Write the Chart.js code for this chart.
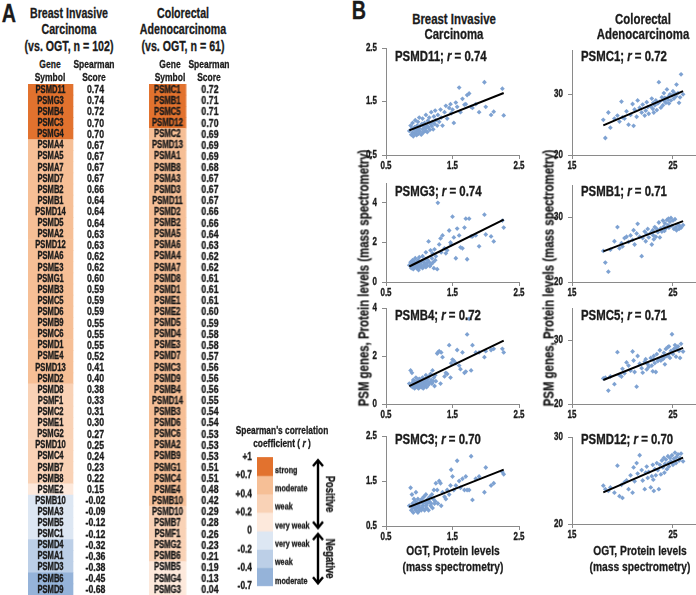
<!DOCTYPE html>
<html>
<head>
<meta charset="utf-8">
<script src="https://cdn.jsdelivr.net/npm/chart.js@4.4.0/dist/chart.umd.min.js"></script>
<style>
  body { margin: 0; background: #fff; }
  #page { position: relative; width: 696px; height: 595px; overflow: hidden; background: #fff;
    font-family: "Liberation Sans", Arial, sans-serif; font-weight: bold; color: #1b1b1b; }
  .t { position: absolute; white-space: nowrap; line-height: 1; -webkit-text-stroke: 0.3px #1b1b1b;
    transform: translate(-50%, -50%) scaleX(0.76); }
  .box { position: absolute; }
</style>
</head>
<body>
<div id="page"></div>
<script>
// ---- panel A: spearman scores ----
const breastGenes = ['PSMD11','PSMG3','PSMB4','PSMC3','PSMG4','PSMA4','PSMA5','PSMA7','PSMD7','PSMB2',
  'PSMB1','PSMD14','PSMD5','PSMA2','PSMD12','PSMA6','PSME3','PSMG1','PSMB3','PSMC5',
  'PSMD6','PSMB9','PSMC6','PSMD1','PSME4','PSMD13','PSMD2','PSMD8','PSMF1','PSMC2',
  'PSME1','PSMG2','PSMD10','PSMC4','PSMB7','PSMB8','PSME2','PSMB10','PSMA3','PSMB5',
  'PSMC1','PSMD4','PSMA1','PSMD3','PSMB6','PSMD9'];
const breastScores = [0.74,0.74,0.72,0.70,0.70,0.67,0.67,0.67,0.67,0.66,
  0.64,0.64,0.64,0.63,0.63,0.62,0.62,0.60,0.59,0.59,
  0.59,0.55,0.55,0.55,0.52,0.41,0.40,0.38,0.33,0.31,
  0.30,0.27,0.25,0.24,0.23,0.22,0.15,-0.02,-0.09,-0.12,
  -0.12,-0.32,-0.36,-0.38,-0.45,-0.68];

const colonGenes = ['PSMC1','PSMB1','PSMC5','PSMD12','PSMC2','PSMD13','PSMA1','PSMB8','PSMA3','PSMD3',
  'PSMD11','PSMD2','PSMB2','PSMA5','PSMA6','PSMA4','PSMA7','PSMD8','PSMD1','PSME1',
  'PSME2','PSMD5','PSMD4','PSME3','PSMD7','PSMC3','PSMD9','PSMB4','PSMD14','PSMB3',
  'PSMD6','PSMC6','PSMA2','PSMB9','PSMG1','PSMC4','PSME4','PSMB10','PSMD10','PSMB7',
  'PSMF1','PSMG2','PSMB6','PSMB5','PSMG4','PSMG3'];
const colonScores = [0.72,0.71,0.71,0.70,0.69,0.69,0.69,0.68,0.67,0.67,
  0.67,0.66,0.66,0.64,0.63,0.62,0.62,0.61,0.61,0.61,
  0.60,0.59,0.58,0.58,0.57,0.56,0.56,0.56,0.55,0.54,
  0.54,0.53,0.53,0.53,0.51,0.51,0.48,0.42,0.29,0.28,
  0.26,0.23,0.21,0.19,0.13,0.04];

const legendTicks = ['+1','+0.7','+0.4','+0.2','0','-0.2','-0.4','-0.7'];
const legendBands = ['strong','moderate','weak','very weak','very weak','weak','moderate'];
const bandColors = ['#e2722e','#f6bf96','#f9d2b6','#fde9dc','#dde7f3','#bccfe7','#95b3d9'];

// ---- panel B: protein levels (OGT on x) ----
const breastOgt = [0.85,0.87,0.88,0.89,0.90,0.90,0.91,0.92,0.93,0.93,
  0.94,0.95,0.95,0.96,0.97,0.98,0.98,0.99,1.00,1.00,
  1.01,1.02,1.03,1.04,1.05,1.05,1.06,1.07,1.08,1.09,
  1.10,1.10,1.11,1.12,1.13,1.14,1.15,1.16,1.17,1.18,
  1.19,1.20,1.21,1.22,1.23,1.24,1.25,1.27,1.28,1.30,
  1.32,1.33,1.35,1.38,1.40,1.42,1.45,1.47,1.48,1.50,
  1.52,1.55,1.57,1.60,1.62,1.65,1.68,1.70,1.72,1.75,
  1.78,1.80,1.85,1.90,1.98,2.00,2.08,2.12,2.25,2.27];
const breastPsmd11 = [0.95,1.05,0.88,1.00,0.92,1.10,0.85,0.98,1.02,0.90,
  1.15,0.93,1.00,0.87,1.05,0.96,1.12,0.90,1.00,1.20,
  0.94,1.05,0.88,1.08,0.98,1.18,0.92,1.03,1.10,0.95,
  1.25,1.00,1.06,0.93,1.14,1.02,1.20,0.97,1.08,1.30,
  1.04,1.12,0.98,1.22,1.08,1.33,1.15,1.05,1.25,1.12,
  1.35,1.20,1.05,1.30,1.42,1.18,1.38,1.45,1.28,1.35,
  1.10,1.48,1.40,1.76,1.30,1.55,1.44,1.45,1.62,1.65,
  1.40,1.38,1.45,1.30,1.86,1.40,1.25,1.31,1.74,1.24];
const breastPsmg3 = [0.85,1.00,0.70,0.95,1.10,0.80,0.65,1.05,0.90,0.75,
  1.20,0.85,0.95,0.70,1.00,0.80,1.10,0.60,0.90,1.25,
  0.75,0.95,0.85,1.05,0.70,1.30,0.80,1.00,0.90,1.15,
  0.75,1.50,0.95,0.85,1.10,2.05,1.00,0.80,1.60,0.90,
  1.20,1.45,1.00,0.70,1.65,1.10,1.30,0.65,4.00,1.90,
  2.20,1.50,2.35,1.70,1.45,1.60,2.60,2.00,1.90,3.30,
  2.25,1.20,2.70,2.35,1.75,1.70,2.75,3.20,1.15,3.20,
  2.30,2.30,2.35,1.80,3.40,2.40,2.30,2.05,3.10,2.75];
const breastPsmb4 = [0.85,1.40,0.75,1.30,0.90,0.70,1.00,0.80,0.95,0.65,
  0.85,1.10,0.75,0.90,0.70,1.00,0.80,0.65,0.90,1.05,
  0.75,0.85,0.70,0.95,0.80,1.10,0.65,0.90,0.75,1.00,
  0.85,1.20,0.70,0.95,1.05,0.80,1.15,0.90,1.25,1.00,
  0.85,1.40,0.95,1.10,0.75,1.20,0.95,2.10,2.15,2.20,
  0.85,2.15,1.95,1.15,1.30,1.25,2.45,1.10,1.70,1.85,
  1.80,1.70,2.25,1.60,1.45,2.15,1.30,1.35,2.90,3.55,
  1.40,2.45,2.15,2.15,1.95,2.20,2.25,2.30,2.30,2.15];
const breastPsmc3 = [0.95,1.35,0.85,1.20,0.90,1.00,0.80,1.10,0.90,0.95,
  1.05,0.85,1.25,0.90,1.00,0.80,1.10,0.95,0.85,1.00,
  0.90,1.05,0.85,1.10,0.95,0.90,1.00,1.15,0.85,1.05,
  0.95,1.20,0.90,1.00,1.10,0.85,1.05,1.15,0.95,1.00,
  1.20,0.90,1.10,1.30,1.00,1.05,1.45,1.30,1.00,1.50,
  1.45,0.95,1.25,1.15,1.10,1.30,1.20,1.40,1.75,1.60,
  1.30,1.40,1.95,1.50,1.35,1.55,1.30,1.60,1.30,1.30,
  2.05,1.08,1.55,1.60,1.25,1.80,1.40,1.45,1.70,1.65];

const colonOgt = [18.1,18.3,18.6,18.8,19.2,19.5,19.7,19.9,20.0,20.2,
  20.4,20.6,20.8,21.0,21.1,21.2,21.4,21.5,21.7,21.9,
  22.0,22.2,22.3,22.4,22.5,22.6,22.8,22.9,23.0,23.05,
  23.1,23.2,23.3,23.4,23.5,23.6,23.7,23.8,23.9,24.0,
  24.1,24.15,24.2,24.3,24.4,24.5,24.55,24.6,24.7,24.8,
  24.9,25.0,25.1,25.2,25.3,25.35,25.5,25.6,25.7,25.8,
  26.0];
const colonPsmc1 = [25.8,22.8,27.0,24.5,26.0,26.5,25.5,28.8,26.2,26.0,
  27.2,25.0,26.6,28.4,24.8,27.5,26.3,29.0,27.8,27.0,
  28.3,26.5,27.3,28.7,27.9,26.8,28.0,29.3,27.6,28.6,
  27.0,28.2,29.0,27.4,28.5,32.0,28.8,27.8,29.5,28.2,
  30.2,28.9,29.4,28.6,30.8,29.1,29.6,28.5,30.0,29.0,
  29.8,30.5,29.3,30.1,29.7,31.6,30.2,28.6,29.5,33.3,
  30.0];
const colonPsmb1 = [24.8,23.0,21.6,25.0,26.3,28.5,25.2,26.0,25.5,26.8,
  27.0,26.2,27.2,26.5,28.0,25.8,27.5,29.0,27.0,24.0,
  26.8,27.8,26.3,27.4,28.2,26.9,27.6,25.8,28.0,27.2,
  26.6,28.5,27.0,28.2,27.7,29.2,26.9,28.3,27.8,29.5,
  28.6,27.9,29.1,28.3,29.6,28.8,29.8,28.4,29.3,29.9,
  28.7,29.5,28.2,29.7,28.5,28.0,28.9,28.2,28.6,28.4,
  28.8];
const colonPsmc5 = [24.0,24.1,22.1,24.3,23.1,28.1,24.5,24.3,25.5,24.8,
  26.5,26.0,25.2,28.2,26.8,25.0,22.7,27.5,26.3,25.6,
  24.9,26.6,27.0,25.4,26.2,25.8,27.2,26.0,25.1,26.9,
  27.5,26.4,25.0,27.8,26.7,27.0,28.4,26.8,27.4,27.0,
  28.0,27.3,26.2,28.6,27.5,28.9,27.7,29.0,27.2,28.3,
  30.9,27.8,28.6,29.2,27.4,28.8,29.0,28.3,27.2,29.4,
  28.2];
const colonPsmd12 = [24.4,24.0,23.8,24.2,23.6,26.7,23.2,24.5,23.0,24.8,
  25.0,24.0,25.6,23.6,26.5,24.9,27.0,25.8,27.9,26.2,
  25.0,24.0,25.9,26.6,25.3,26.0,24.2,25.5,26.8,25.1,
  23.8,26.3,25.6,27.0,26.2,24.0,26.8,25.7,27.3,26.5,
  27.6,25.9,26.9,27.4,26.3,27.8,27.0,26.6,27.6,27.2,
  27.9,26.8,27.5,28.2,27.0,27.7,28.0,27.3,27.6,28.1,
  27.2];

const breastPlotGenes = ['PSMD11','PSMG3','PSMB4','PSMC3'];
const breastPlotR = [0.74, 0.74, 0.72, 0.70];
const colonPlotGenes = ['PSMC1','PSMB1','PSMC5','PSMD12'];
const colonPlotR = [0.72, 0.71, 0.71, 0.70];

const breastYTicks = [[0.5,1.5,2.5],[0,2,4],[0,2,4],[0.5,1.5,2.5]];
const breastYRange = [[0.5,2.5],[0,5],[0,4],[0.5,2.5]];
const colonYTicks = [[20,30],[20,30],[20,30],[20,30]];
const colonYRange = [[20,37.3],[20,35],[20,35],[20,30]];
const breastXTicks = [0.5,1.5,2.5];
const colonXTicks = [15,25];

// ---------------------------------------------------------------
// no condensed face installed: draw Liberation Sans squeezed horizontally
const FAM = '"Liberation Sans", Arial, sans-serif';
const SX = 0.76;
const INK = '#1b1b1b';
Chart.defaults.font.family = FAM;
Chart.defaults.font.weight = 'bold';
Chart.defaults.color = INK;

const page = document.getElementById('page');

function addText(x, y, html, size, rot) {
  const d = document.createElement('div');
  d.className = 't';
  d.style.left = x + 'px';
  d.style.top = y + 'px';
  d.style.fontSize = size + 'px';
  if (rot) d.style.transform = 'translate(-50%,-50%) rotate(' + rot + 'deg) scaleX(' + SX + ')';
  d.innerHTML = html;
  page.appendChild(d);
}

function addCanvas(left, top, w, h) {
  const d = document.createElement('div');
  d.className = 'box';
  d.style.left = left + 'px';
  d.style.top = top + 'px';
  d.style.width = w + 'px';
  d.style.height = h + 'px';
  const c = document.createElement('canvas');
  d.appendChild(c);
  page.appendChild(d);
  return c;
}

// narrow, slightly heavier text on a canvas; returns drawn width
function narrow(ctx, text, x, y, font, align) {
  ctx.save();
  ctx.font = font;
  ctx.textAlign = align || 'center';
  ctx.textBaseline = 'middle';
  ctx.fillStyle = INK;
  ctx.strokeStyle = INK;
  ctx.lineWidth = 0.35;
  ctx.translate(x, y);
  ctx.scale(SX, 1);
  ctx.fillText(text, 0, 0);
  ctx.strokeText(text, 0, 0);
  const w = ctx.measureText(text).width * SX;
  ctx.restore();
  return w;
}

function bandOf(s) {
  if (s >= 0.7) return 0;
  if (s >= 0.4) return 1;
  if (s >= 0.2) return 2;
  if (s >= 0) return 3;
  if (s > -0.2) return 4;
  if (s > -0.4) return 5;
  return 6;
}

const base = {
  responsive: true,
  maintainAspectRatio: false,
  animation: false,
  devicePixelRatio: 1,
  events: []
};

// ---- tables ----
const cellText = {
  id: 'cellText',
  afterDatasetsDraw(chart, args, o) {
    const ctx = chart.ctx, xs = chart.scales.x, ys = chart.scales.y;
    o.genes.forEach((g, i) => {
      const y = ys.getPixelForValue(i) + 0.5;
      narrow(ctx, g, xs.getPixelForValue(0.5), y, 'bold 10px ' + FAM);
      narrow(ctx, o.scores[i].toFixed(2), xs.getPixelForValue(o.scoreAt), y, 'bold 11.5px ' + FAM);
    });
  }
};

const TABLE_TOP = 83.75, ROW_H = 11.11;

function geneTable(left, cellW, genes, scores, scoreAt) {
  const c = addCanvas(left, TABLE_TOP, cellW * 2, genes.length * ROW_H);
  new Chart(c, {
    type: 'bar',
    data: {
      labels: genes,
      datasets: [{
        data: genes.map(() => [0, 1]),
        backgroundColor: scores.map(s => bandColors[bandOf(s)]),
        borderWidth: 0,
        barPercentage: 1,
        categoryPercentage: 1
      }]
    },
    options: Object.assign({}, base, {
      indexAxis: 'y',
      layout: { padding: 0 },
      scales: {
        x: { display: false, min: 0, max: 2 },
        y: { display: false }
      },
      plugins: {
        legend: { display: false },
        tooltip: { enabled: false },
        cellText: { genes: genes, scores: scores, scoreAt: scoreAt }
      }
    }),
    plugins: [cellText]
  });
}

geneTable(28, 45, breastGenes, breastScores, 1.5);
geneTable(149.3, 36.4, colonGenes, colonScores, 1.65);

// ---- legend bar ----
const legendDeco = {
  id: 'legendDeco',
  afterDraw(chart) {
    const ctx = chart.ctx, a = chart.chartArea, ys = chart.scales.y;
    legendTicks.forEach((t, i) => {
      narrow(ctx, t, a.left - 5, ys.getPixelForValue(i), 'bold 11px ' + FAM, 'right');
    });
    legendBands.forEach((b, i) => {
      const y = (ys.getPixelForValue(i) + ys.getPixelForValue(i + 1)) / 2 + 4;
      narrow(ctx, b, a.right + 2, y, 'bold 9.5px ' + FAM, 'left');
    });
    const ax = a.right + 45;
    const y0 = ys.getPixelForValue(0), y4 = ys.getPixelForValue(4), y7 = ys.getPixelForValue(7);
    ctx.save();
    ctx.strokeStyle = '#000';
    ctx.lineWidth = 2.4;
    const arrow = (t, b) => {
      ctx.beginPath();
      ctx.moveTo(ax, t); ctx.lineTo(ax, b);
      ctx.moveTo(ax - 5, t + 6); ctx.lineTo(ax, t); ctx.lineTo(ax + 5, t + 6);
      ctx.moveTo(ax - 5, b - 6); ctx.lineTo(ax, b); ctx.lineTo(ax + 5, b - 6);
      ctx.stroke();
    };
    arrow(y0 + 3, y4 - 3);
    arrow(y4 + 3, y7 - 3);
    [['Positive', (y0 + y4) / 2], ['Negative', (y4 + y7) / 2]].forEach(([t, y]) => {
      ctx.save();
      ctx.translate(a.right + 56, y);
      ctx.rotate(Math.PI / 2);
      narrow(ctx, t, 0, 0, 'bold 12.5px ' + FAM);
      ctx.restore();
    });
    ctx.restore();
  }
};

(function () {
  const c = addCanvas(217, 447.3, 166, 148.3);
  new Chart(c, {
    type: 'bar',
    data: {
      labels: [''],
      datasets: legendBands.map((b, i) => ({
        label: b,
        data: [1],
        backgroundColor: bandColors[i],
        borderWidth: 0,
        barPercentage: 1,
        categoryPercentage: 1
      }))
    },
    options: Object.assign({}, base, {
      layout: { padding: { top: 10, right: 110, bottom: 10, left: 0 } },
      scales: {
        x: { stacked: true, display: false },
        y: {
          stacked: true, min: 0, max: 7, reverse: true,
          afterBuildTicks: s => { s.ticks = legendTicks.map((_, i) => ({ value: i })); },
          afterFit: s => { s.width = 40; },
          grid: { display: false, drawTicks: false },
          border: { display: false },
          ticks: { display: false }
        }
      },
      plugins: { legend: { display: false }, tooltip: { enabled: false } }
    }),
    plugins: [legendDeco]
  });
})();

// ---- scatter plots ----
const plotDeco = {
  id: 'plotDeco',
  afterDraw(chart, args, o) {
    const ctx = chart.ctx, a = chart.chartArea, xs = chart.scales.x, ys = chart.scales.y;
    xs.ticks.forEach(t => narrow(ctx, String(t.value), xs.getPixelForValue(t.value), a.bottom + 11, 'bold 10.5px ' + FAM));
    ys.ticks.forEach(t => narrow(ctx, String(t.value), a.left - 9, ys.getPixelForValue(t.value), 'bold 10.5px ' + FAM, 'right'));
    // title with italic r
    let x = a.left + 9;
    const y = a.top + o.dy;
    [[o.gene + '; ', 'bold'], ['r', 'italic bold'], [' = ' + o.r.toFixed(2), 'bold']].forEach(([t, st]) => {
      x += narrow(ctx, t, x, y, st + ' 15px ' + FAM, 'left');
    });
  }
};

function fitLine(xs, ys) {
  const n = xs.length;
  const mx = xs.reduce((s, v) => s + v, 0) / n;
  const my = ys.reduce((s, v) => s + v, 0) / n;
  let sxy = 0, sxx = 0;
  xs.forEach((x, i) => { sxy += (x - mx) * (ys[i] - my); sxx += (x - mx) * (x - mx); });
  const b = sxy / sxx, a0 = my - b * mx;
  const lo = Math.min(...xs), hi = Math.max(...xs);
  return [{ x: lo, y: a0 + b * lo }, { x: hi, y: a0 + b * hi }];
}

const AXW = 30, AXH = 22, PADT = 12, PADR = 14;
const axisGrey = '#8a8a8a';

function axis(range, ticks, fit) {
  return {
    type: 'linear', min: range[0], max: range[1],
    afterBuildTicks: s => { s.ticks = ticks.map(v => ({ value: v })); },
    afterFit: fit,
    grid: { display: true, drawOnChartArea: false, drawTicks: true, tickLength: 4, color: axisGrey },
    border: { display: true, color: axisGrey, width: 1 },
    ticks: { display: false }
  };
}

function scatter(box, xs, ys, xRange, xTicks, yRange, yTicks, gene, r, dy) {
  const c = addCanvas(box.left - AXW, box.top - PADT, AXW + box.w + PADR, PADT + box.h + AXH);
  new Chart(c, {
    type: 'scatter',
    data: {
      datasets: [
        { data: fitLine(xs, ys), showLine: true, borderColor: '#000', borderWidth: 2, pointRadius: 0 },
        { data: xs.map((x, i) => ({ x: x, y: ys[i] })), pointStyle: 'rectRot', pointRadius: 2.4,
          backgroundColor: '#7ea2d2', borderColor: '#7ea2d2', borderWidth: 0 }
      ]
    },
    options: Object.assign({}, base, {
      layout: { padding: { top: PADT, right: PADR, bottom: 0, left: 0 } },
      scales: {
        x: axis(xRange, xTicks, s => { s.height = AXH; }),
        y: axis(yRange, yTicks, s => { s.width = AXW; })
      },
      plugins: {
        legend: { display: false },
        tooltip: { enabled: false },
        plotDeco: { gene: gene, r: r, dy: dy }
      }
    }),
    plugins: [plotDeco]
  });
}

const breastBoxes = [
  { left: 386, top: 48, w: 133, h: 107 },
  { left: 386, top: 183, w: 133, h: 99 },
  { left: 386, top: 308, w: 133, h: 96 },
  { left: 386, top: 436, w: 133, h: 90 }
];
const colonBoxes = [
  { left: 572, top: 50, w: 124, h: 105 },
  { left: 572, top: 185, w: 124, h: 97 },
  { left: 572, top: 308, w: 124, h: 96 },
  { left: 572, top: 437, w: 124, h: 87 }
];
const breastTitleDy = [9, 9, 8, 3.5];
const colonTitleDy = [7, 7, 8, 2.5];
const breastY = [breastPsmd11, breastPsmg3, breastPsmb4, breastPsmc3];
const colonY = [colonPsmc1, colonPsmb1, colonPsmc5, colonPsmd12];

for (let i = 0; i < 4; i++) {
  scatter(breastBoxes[i], breastOgt, breastY[i], [0.5, 2.5], breastXTicks,
    breastYRange[i], breastYTicks[i], breastPlotGenes[i], breastPlotR[i], breastTitleDy[i]);
  scatter(colonBoxes[i], colonOgt, colonY[i], [15, 27.28], colonXTicks,
    colonYRange[i], colonYTicks[i], colonPlotGenes[i], colonPlotR[i], colonTitleDy[i]);
}

// ---- text ----
addText(8.5, 12.5, 'A', 26);
addText(69, 12.7, 'Breast Invasive', 14);
addText(69, 29.3, 'Carcinoma', 14);
addText(69, 45.7, '(vs. OGT, n = 102)', 14);
addText(183.3, 12.7, 'Colorectal', 14);
addText(183.3, 29.3, 'Adenocarcinoma', 14);
addText(183.3, 45.7, '(vs. OGT, n = 61)', 14);
addText(50, 65, 'Gene', 11.2);
addText(50, 78.3, 'Symbol', 11.2);
addText(94.3, 65, 'Spearman', 11.2);
addText(94.3, 78.3, 'Score', 11.2);
addText(170, 65, 'Gene', 11.2);
addText(170, 78.3, 'Symbol', 11.2);
addText(209, 65, 'Spearman', 11.2);
addText(209, 78.3, 'Score', 11.2);
addText(282, 430, "Spearman's correlation", 11);
addText(282, 443, 'coefficient ( <i>r</i> )', 11);

addText(359, 10, 'B', 26);
addText(454, 18.3, 'Breast Invasive', 15);
addText(454, 33.3, 'Carcinoma', 15);
addText(643, 18.3, 'Colorectal', 15);
addText(643, 33.3, 'Adenocarcinoma', 15);
addText(363, 277.5, 'PSM genes, Protein levels (mass spectrometry)', 15, -90);
addText(548, 277.5, 'PSM genes, Protein levels (mass spectrometry)', 15, -90);
addText(453, 550.7, 'OGT, Protein levels', 13.5);
addText(453, 566.7, '(mass spectrometry)', 13.5);
addText(640, 550.7, 'OGT, Protein levels', 13.5);
addText(640, 566.7, '(mass spectrometry)', 13.5);
</script>
</body>
</html>
